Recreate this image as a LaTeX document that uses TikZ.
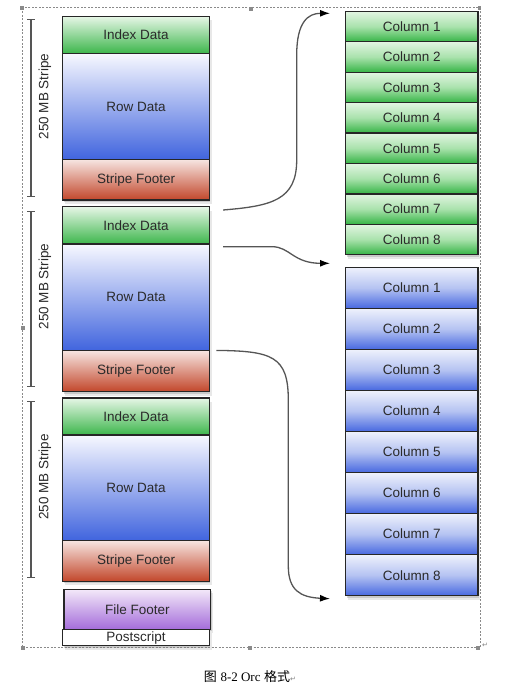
\documentclass[tikz,border=0pt]{standalone}
\usepackage{fontspec}
\setmainfont{Liberation Sans}
\newfontfamily\cjk{Noto Sans CJK SC}
\newfontfamily\capserif{Liberation Serif}
\newfontfamily\symf{DejaVu Sans}
\usetikzlibrary{shadows,arrows.meta,calc}
\definecolor{txt}{HTML}{2A2A2A}
\definecolor{gtop}{HTML}{E6F6E6}\definecolor{gbot}{HTML}{3DB64C}
\definecolor{btop}{HTML}{F7F8FF}\definecolor{bbot}{HTML}{4064DE}
\definecolor{rtop}{HTML}{F6E4E0}\definecolor{rbot}{HTML}{C2462A}
\definecolor{ptop}{HTML}{F3E8F9}\definecolor{pbot}{HTML}{A46CDA}
\definecolor{cgtop}{HTML}{E2F5E2}\definecolor{cgmid}{HTML}{A9E2AC}\definecolor{cgbot}{HTML}{36B446}
\definecolor{cbtop}{HTML}{EEF1FC}\definecolor{cbmid}{HTML}{B5C3F2}\definecolor{cbbot}{HTML}{4768E0}
\definecolor{conn}{HTML}{555555}
\definecolor{frame}{HTML}{8A8A8A}
\definecolor{edge}{HTML}{262626}
\tikzset{
  lbl/.style={font=\fontsize{13.5}{15}\selectfont, text=txt},
  shad/.style={drop shadow={opacity=0.18, shadow xshift=2.2pt, shadow yshift=-4pt},
               drop shadow={opacity=0.3, shadow xshift=1pt, shadow yshift=-2pt}},
  seg/.style={lbl, draw=edge, line width=1.4pt, anchor=north west, inner sep=0pt,
    minimum width=146.7pt, shad},
  idxbox/.style={seg, top color=gtop, bottom color=gbot},
  rowbox/.style={seg, top color=btop, bottom color=bbot},
  ftbox/.style={seg, top color=rtop, bottom color=rbot},
  filebox/.style={seg, top color=ptop, bottom color=pbot},
  psbox/.style={seg, fill=white},
  colbox/.style={lbl, draw=edge, line width=1.4pt, anchor=north west, inner sep=0pt,
    minimum width=132.3pt, shad},
  gcol/.style={colbox, top color=cgtop, bottom color=cgbot, middle color=cgmid, minimum height=30.4pt},
  bcol/.style={colbox, top color=cbtop, bottom color=cbbot, middle color=cbmid, minimum height=41.04pt},
  brk/.style={draw=conn, line width=1.2pt, {Bar[width=8pt]}-{Bar[width=8pt]}},
  stripelbl/.style={lbl, rotate=90},
  conn/.style={draw=conn, line width=1.3pt, -{Latex[length=10pt,width=7pt,color=black]}},
  handle/.style={fill=frame, draw=none},
}
\begin{document}
\begin{tikzpicture}[x=1pt,y=-1pt]
\useasboundingbox (0,0) rectangle (506,693);
% selection frame
\draw[frame, line width=0.6pt, dash pattern=on 2pt off 1.5pt] (22,7.8) rectangle (480,647.7);
\foreach \hx/\hy in {22/8, 250.7/9, 479.5/8, 23/327.7, 479.5/328, 23/647.7, 250/647.7, 478/647.7}
  \fill[handle] (\hx-1.8,\hy-1.8) rectangle (\hx+1.8,\hy+1.8);

% stripe 1
\node[idxbox, minimum height=37pt] (idx1) at (62,15.7) {Index Data};
\node[rowbox, minimum height=106.3pt] (row1) at (62,52.7) {Row Data};
\node[ftbox, minimum height=40.3pt] (ft1) at (62,159) {Stripe Footer};
% stripe 2
\node[idxbox, minimum height=37.3pt] (idx2) at (62,206) {Index Data};
\node[rowbox, minimum height=106.7pt] (row2) at (62,243.3) {Row Data};
\node[ftbox, minimum height=41pt] (ft2) at (62,350) {Stripe Footer};
% stripe 3
\node[idxbox, minimum height=37pt] (idx3) at (62,397.3) {Index Data};
\node[rowbox, minimum height=105.7pt] (row3) at (62,434.3) {Row Data};
\node[ftbox, minimum height=40.7pt] (ft3) at (62,540) {Stripe Footer};
% file footer / postscript
\node[filebox, minimum height=40pt] (ff) at (63.3,588.7) {File Footer};
\node[psbox, minimum height=16.3pt] (ps) at (62,628.7) {Postscript};

% stripe brackets
\draw[brk] (31,19.3) -- (31,196.7);
\draw[brk] (31,210.7) -- (31,387.3);
\draw[brk] (31,401) -- (31,578.3);
\node[stripelbl] (s1lbl) at (45,96.7) {250 MB Stripe};
\node[stripelbl] (s2lbl) at (45,286.7) {250 MB Stripe};
\node[stripelbl] (s3lbl) at (45,477) {250 MB Stripe};

% column stacks
\foreach \i in {1,...,8}
  \node[gcol] (g\i) at (345,{10.7+(\i-1)*30.4}) {Column \i};
\foreach \i in {1,...,8}
  \node[bcol] (b\i) at (345,{266.7+(\i-1)*41.04}) {Column \i};

% connector ends
\coordinate (s1) at ($(idx2.north east)+(13,4)$);
\coordinate (s2) at ($(row2.north east)+(13,3.4)$);
\coordinate (s3) at ($(row2.south east)+(6.3,-1)$);
\coordinate (t1) at ($(g1.north west)+(-15,2.6)$);
\coordinate (t2) at ($(b1.north west)+(-15,-3.4)$);
\coordinate (t3) at ($(b8.south west)+(-15,2.3)$);

\draw[conn] (s1) .. controls (272,206) and (296.7,200) .. (296.7,160)
  -- (296.7,55) .. controls (296.7,22) and (308,13.3) .. (t1);
\draw[conn] (s2) -- (272,246.7) .. controls (290,246.7) and (293,263.3) .. (t2);
\draw[conn] (s3) .. controls (272,351) and (288.3,356) .. (288.3,400)
  -- (288.3,566) .. controls (288.3,590) and (300,597.3) .. (t3);

% paragraph marks and caption
\node[text=gray, font=\symf\fontsize{7}{8}\selectfont] (pm1) at (485,645) {↵};
\node[font=\fontsize{13}{15}\selectfont, text=black] (cap) at (250,676.7)
  {{\cjk 图} {\capserif 8-2 Orc} {\cjk 格式}{\symf\fontsize{7}{8}\selectfont\color{gray}↵}};
\end{tikzpicture}
\end{document}
